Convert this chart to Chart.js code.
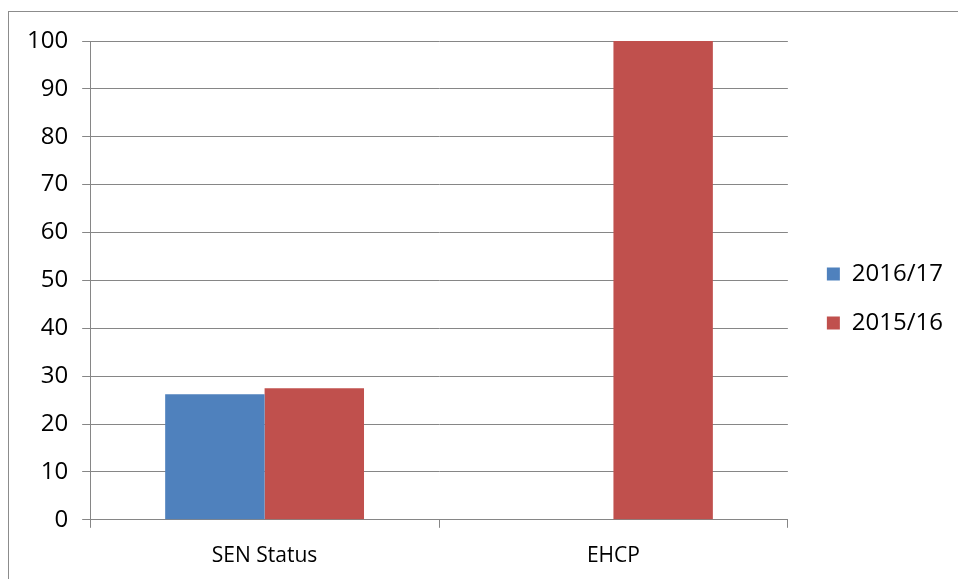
<!DOCTYPE html>
<html>
<head>
<meta charset="utf-8">
<script src="https://cdn.jsdelivr.net/npm/chart.js@4"></script>
<style>
  html, body { margin: 0; padding: 0; background: #fff; }
  #wrap { position: relative; width: 958px; height: 579px; }
  #frame { position: absolute; left: 8px; top: 11px; right: -2px; bottom: -2px; border: 1px solid #8c8c8c; }
  canvas { position: absolute; left: 0; top: 0; }
</style>
</head>
<body>
<div id="wrap">
  <div id="frame"></div>
  <canvas id="my-bar" width="958" height="579"></canvas>
</div>
<script>
// ===========================data===================
const categories = ["SEN Status", "EHCP"]
const series2016 = [26.2, 0]
const series2015 = [27.5, 100]
const yTicks = [0, 10, 20, 30, 40, 50, 60, 70, 80, 90, 100]

const font = "'Open Sans', 'Liberation Sans', sans-serif"
Chart.defaults.font.family = font
Chart.defaults.color = "#000"

// empty axes: only reserve space around the plot
const spacer = (axis, position, size) => ({
    type: "linear",
    axis: axis,
    position: position,
    display: true,
    grid: { display: false },
    border: { display: false },
    ticks: { display: false },
    afterFit: s => { if (axis === "x") s.height = size; else s.width = size }
})

// ===========================Graphic Bar===================
const myBar = document.getElementById("my-bar")
let barChart = new Chart(myBar, {
    type: "bar",
    data: {
        labels: categories,
        datasets: [{
            label: "2016/17",
            data: series2016,
            backgroundColor: "#4f81bd",
            categoryPercentage: 0.57,
            barPercentage: 1
        }, {
            label: "2015/16",
            data: series2015,
            backgroundColor: "#c0504d",
            categoryPercentage: 0.57,
            barPercentage: 1
        }]
    },
    options: {
        responsive: false,
        animation: false,
        layout: { padding: { left: 13, top: 12, right: 5, bottom: -6 } },
        plugins: {
            tooltip: { enabled: false },
            legend: {
                position: "right",
                labels: {
                    boxWidth: 13,
                    boxHeight: 13,
                    padding: 25,
                    font: { size: 24 },
                    color: "#000"
                }
            }
        },
        scales: {
            x: {
                grid: { drawOnChartArea: false, offset: true, tickLength: 8, color: "#868686" },
                border: { color: "#868686" },
                ticks: { font: { size: 21 }, padding: 16 }
            },
            y: {
                min: 0,
                max: 100,
                afterBuildTicks: axis => { axis.ticks = yTicks.map(v => ({ value: v })) },
                grid: { color: "#868686", tickLength: 8 },
                border: { color: "#868686" },
                ticks: { font: { size: 24 }, padding: 14 }
            },
            gapRight: spacer("y", "right", 14),
            gapTop: spacer("x", "top", 29)
        }
    }
})
</script>
</body>
</html>
